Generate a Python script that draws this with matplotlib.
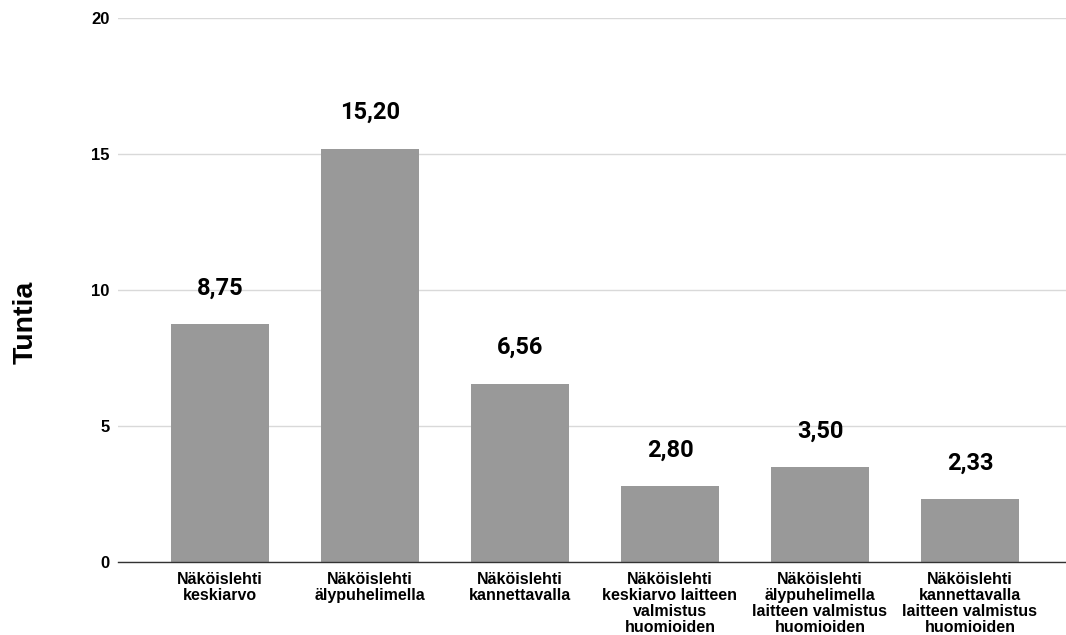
import matplotlib
matplotlib.use("Agg")
import matplotlib.pyplot as plt

categories = [
    "Näköislehti\nkeskiarvo",
    "Näköislehti\nälypuhelimella",
    "Näköislehti\nkannettavalla",
    "Näköislehti\nkeskiarvo laitteen\nvalmistus\nhuomioiden",
    "Näköislehti\nälypuhelimella\nlaitteen valmistus\nhuomioiden",
    "Näköislehti\nkannettavalla\nlaitteen valmistus\nhuomioiden",
]
values = [8.75, 15.20, 6.56, 2.80, 3.50, 2.33]
yticks = [0, 5, 10, 15, 20]
ylabel = "Tuntia"

fig = plt.figure(figsize=(10.66, 6.35), dpi=100)
ax = fig.add_axes([118/1066, 73/635, 1 - 118/1066, (562-18)/635])

x = list(range(len(categories)))
bars = ax.bar(x, values, width=0.65, color="#999999", zorder=3)
ax.set_xlim(-0.68, 5.64)
ax.set_ylim(0, 20)
ax.set_yticks(yticks)
ax.set_yticklabels([str(t) for t in yticks], fontsize=12, fontweight="bold",
                   family="Liberation Sans")
ax.set_xticks(x)
ax.set_xticklabels(categories, fontsize=11.5, fontweight="bold",
                   family="Liberation Sans", linespacing=1.08)
ax.tick_params(axis="both", length=0)
ax.tick_params(axis="x", pad=7)
ax.tick_params(axis="y", pad=6)
ax.grid(axis="y", color="#d9d9d9", linewidth=1, zorder=0)
for s in ["top", "right", "left"]:
    ax.spines[s].set_visible(False)
ax.spines["bottom"].set_color("#333333")
ax.spines["bottom"].set_linewidth(1)
ax.spines["bottom"].set_zorder(4)

for b, v in zip(bars, values):
    ax.annotate(f"{v:.2f}".replace(".", ","), (b.get_x() + b.get_width()/2, v),
                xytext=(0, 17.5), textcoords="offset points", ha="center", va="bottom",
                fontsize=17, fontweight="bold", family="Roboto")

fig.text(26/1066, 1 - 322/635, ylabel, rotation=90, ha="center", va="center",
         fontsize=20.5, fontweight="bold", family="Liberation Sans")

fig.savefig("out.png", dpi=100)
